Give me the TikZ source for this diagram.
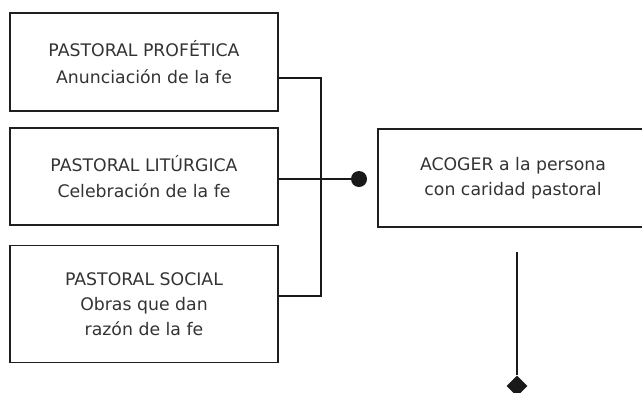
\documentclass[tikz,border=0pt]{standalone}
\usepackage{fontspec}
\setmainfont{DejaVu Sans}
\usetikzlibrary{shapes.geometric}
\begin{document}
\begin{tikzpicture}[x=1pt,y=1pt,
  boxnode/.style={draw=black!88, line width=1.8pt, minimum width=268pt, inner sep=0pt, align=center, text=black!80, font=\fontsize{17.3}{26.5}\selectfont},
  conn/.style={draw=black!90, line width=1.8pt},
  dotnode/.style={circle, fill=black!90, minimum size=16pt, inner sep=0pt},
  dianode/.style={diamond, fill=black!90, minimum size=21pt, inner sep=0pt}]
\useasboundingbox (0,0) rectangle (642,-392);
\begin{scope}
\clip (0,0) rectangle (642,-392);
\node[boxnode, minimum height=98pt] (b1) at (144,-62) {PASTORAL PROFÉTICA\\Anunciación de la fe};
\node[boxnode, minimum height=97pt] (b2) at (144,-176.5) {PASTORAL LITÚRGICA\\Celebración de la fe};
\node[boxnode, minimum height=117pt, font=\fontsize{17.3}{25}\selectfont] (b3) at (144,-304) {PASTORAL SOCIAL\\Obras que dan\\razón de la fe};
\node[boxnode, minimum width=270pt, minimum height=98pt, font=\fontsize{17.3}{25}\selectfont] (b4) at (513,-178) {ACOGER a la persona\\con caridad pastoral};
\node[dotnode] (dot) at (359,-179) {};
\node[dianode] (dia) at (517,-386) {};
\coordinate (top) at (517,-252);
\coordinate (j1) at (321,-78);
\coordinate (j3) at (321,-296);
\draw[conn] (b1.east |- j1) -- (j1) -- (j3) -- (b3.east |- j3);
\draw[conn] (b2.east |- dot) -- (dot);
\draw[conn] (top) -- (dia);
\end{scope}
\end{tikzpicture}
\end{document}
